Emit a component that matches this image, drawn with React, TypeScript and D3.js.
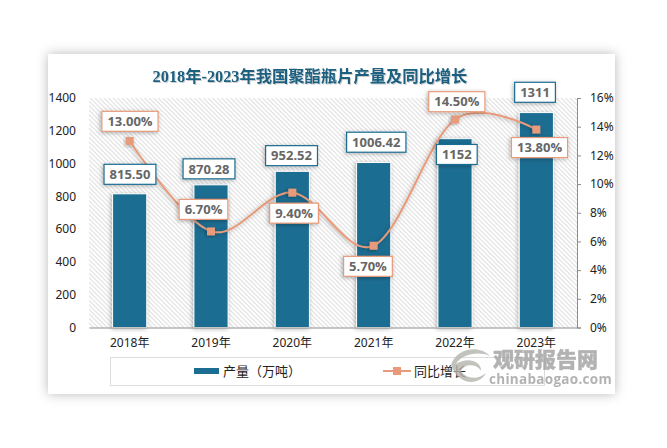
import React, { useEffect, useRef } from "react";
import * as d3 from "d3";

const years = ["2018年", "2019年", "2020年", "2021年", "2022年", "2023年"];
const output = [815.5, 870.28, 952.52, 1006.42, 1152, 1311];
const outputLabels = ["815.50", "870.28", "952.52", "1006.42", "1152", "1311"];
const growth = [13.0, 6.7, 9.4, 5.7, 14.5, 13.8];
const leftTicks = [0, 200, 400, 600, 800, 1000, 1200, 1400];
const rightTicks = [0, 2, 4, 6, 8, 10, 12, 14, 16];

// hand placed data label offsets, from the mark to the centre of the box
const outputLabelOffsets = [[0.3, -19.5], [-2, -16], [-0.8, -15.7], [2.6, -20.3], [1.8, 15.8], [-1.3, -20.3]];
const growthLabelOffsets = [[0.3, -19.7], [-7.5, -22], [1.7, 20.5], [-5.7, 20.6], [1.8, -17.8], [3.2, 18]];

const width = 667;
const height = 448;
const plot = { left: 89, right: 577, top: 98, bottom: 327.5 };
const barColor = "#1b6d92";
const lineColor = "#e89b7a";
const axisFont = "'Noto Sans', 'Noto Sans CJK SC', sans-serif";

const App: React.FC = () => {
  const ref = useRef<SVGSVGElement>(null);

  useEffect(() => {
    const svg = d3.select(ref.current!);
    svg.selectAll("*").remove();

    const defs = svg.append("defs");
    const hatch = defs
      .append("pattern")
      .attr("id", "hatch")
      .attr("width", 3.2)
      .attr("height", 3.2)
      .attr("patternUnits", "userSpaceOnUse")
      .attr("patternTransform", "rotate(-45)");
    hatch.append("line").attr("x1", 1).attr("x2", 1).attr("y1", 0).attr("y2", 3.2).attr("stroke", "#dcdcdc").attr("stroke-width", 1);

    const shadow = (id: string, dx: number, dy: number, blur: number, opacity: number) =>
      defs
        .append("filter")
        .attr("id", id)
        .attr("x", "-30%")
        .attr("y", "-30%")
        .attr("width", "160%")
        .attr("height", "160%")
        .append("feDropShadow")
        .attr("dx", dx)
        .attr("dy", dy)
        .attr("stdDeviation", blur)
        .attr("flood-color", "#000")
        .attr("flood-opacity", opacity);
    shadow("cardShadow", 0, 0, 6, 0.28);
    shadow("markShadow", -1, 1, 2, 0.3);
    shadow("titleShadow", 1, 1, 0.6, 0.2);

    // card
    svg
      .append("rect")
      .attr("x", 48)
      .attr("y", 54)
      .attr("width", 567)
      .attr("height", 340)
      .attr("fill", "#fff")
      .attr("filter", "url(#cardShadow)");

    svg
      .append("text")
      .attr("x", 310)
      .attr("y", 81.5)
      .attr("text-anchor", "middle")
      .attr("font-family", "'Liberation Serif', 'Noto Sans CJK SC', serif")
      .attr("font-weight", "bold")
      .attr("font-size", 16.3)
      .attr("fill", "#1a5f7f")
      .attr("filter", "url(#titleShadow)")
      .text("2018年-2023年我国聚酯瓶片产量及同比增长");

    // plot background
    svg
      .append("rect")
      .attr("x", plot.left)
      .attr("y", plot.top)
      .attr("width", plot.right - plot.left)
      .attr("height", plot.bottom - plot.top)
      .attr("fill", "url(#hatch)");

    const x = d3.scaleBand<string>().domain(years).range([plot.left, plot.right]).paddingInner(0.58).paddingOuter(0.29);
    const yLeft = d3.scaleLinear().domain([0, 1400]).range([plot.bottom, plot.top]);
    const yRight = d3.scaleLinear().domain([0, 16]).range([plot.bottom, plot.top]);
    const cx = (i: number) => x(years[i])! + x.bandwidth() / 2;

    // bars
    svg
      .append("g")
      .selectAll("rect")
      .data(output)
      .join("rect")
      .attr("x", (_, i) => x(years[i])!)
      .attr("y", (d) => yLeft(d))
      .attr("width", x.bandwidth())
      .attr("height", (d) => plot.bottom - yLeft(d))
      .attr("fill", barColor)
      .attr("stroke", "#fff")
      .attr("stroke-width", 1)
      .attr("filter", "url(#markShadow)");

    // axes
    const leftAxis = svg
      .append("g")
      .attr("transform", `translate(${plot.left},0)`)
      .call(d3.axisLeft(yLeft).tickValues(leftTicks).tickSize(0).tickPadding(13).tickFormat((d) => String(d)));
    leftAxis.select(".domain").remove();

    const rightAxis = svg
      .append("g")
      .attr("transform", `translate(${plot.right},0)`)
      .call(d3.axisRight(yRight).tickValues(rightTicks).tickSize(4).tickSizeOuter(4).tickPadding(9).tickFormat((d) => `${d}%`));
    rightAxis.selectAll("line,path").attr("stroke", "#8c8c8c");

    const bottomAxis = svg
      .append("g")
      .attr("transform", `translate(0,${plot.bottom})`)
      .call(d3.axisBottom(x).tickSize(0).tickPadding(11));
    bottomAxis.select(".domain").attr("stroke", "#8c8c8c").attr("stroke-width", 1.2);

    [leftAxis, rightAxis, bottomAxis].forEach((axis) =>
      axis.selectAll("text").attr("font-family", axisFont).attr("font-size", 12).attr("fill", "#222")
    );

    // growth line
    const line = d3
      .line<number>()
      .x((_, i) => cx(i))
      .y((d) => yRight(d))
      .curve(d3.curveCatmullRom.alpha(0));

    svg
      .append("path")
      .datum(growth)
      .attr("d", line)
      .attr("fill", "none")
      .attr("stroke", lineColor)
      .attr("stroke-width", 2)
      .attr("filter", "url(#markShadow)");

    svg
      .append("g")
      .selectAll("rect")
      .data(growth)
      .join("rect")
      .attr("x", (_, i) => cx(i) - 4)
      .attr("y", (d) => yRight(d) - 4)
      .attr("width", 8)
      .attr("height", 8)
      .attr("fill", lineColor)
      .attr("filter", "url(#markShadow)");

    // data labels
    const drawLabel = (text: string, px: number, py: number, color: string) => {
      const g = svg.append("g");
      const box = g.append("rect");
      const label = g
        .append("text")
        .attr("x", px)
        .attr("y", py + 4.7)
        .attr("text-anchor", "middle")
        .attr("font-family", "'Open Sans', sans-serif")
        .attr("font-weight", "bold")
        .attr("font-size", 13)
        .attr("fill", "#666")
        .text(text);
      const w = (label.node() as SVGTextElement).getComputedTextLength() + 11;
      box
        .attr("x", px - w / 2)
        .attr("y", py - 10)
        .attr("width", w)
        .attr("height", 20)
        .attr("fill", "#fff")
        .attr("stroke", color)
        .attr("stroke-width", 1.2)
        .attr("filter", "url(#markShadow)");
    };

    output.forEach((d, i) => {
      const [dx, dy] = outputLabelOffsets[i];
      drawLabel(outputLabels[i], cx(i) + dx, yLeft(d) + dy, barColor);
    });
    growth.forEach((d, i) => {
      const [dx, dy] = growthLabelOffsets[i];
      drawLabel(`${d.toFixed(2)}%`, cx(i) + dx, yRight(d) + dy, lineColor);
    });

    // legend
    svg
      .append("rect")
      .attr("x", 110.5)
      .attr("y", 357.5)
      .attr("width", 434)
      .attr("height", 28)
      .attr("fill", "none")
      .attr("stroke", "#dcdcdc");
    svg.append("rect").attr("x", 194).attr("y", 368).attr("width", 25).attr("height", 6).attr("fill", barColor);
    svg.append("line").attr("x1", 383).attr("x2", 411).attr("y1", 371).attr("y2", 371).attr("stroke", lineColor).attr("stroke-width", 2);
    svg.append("rect").attr("x", 393).attr("y", 367).attr("width", 8).attr("height", 8).attr("fill", lineColor);
    [
      { text: "产量（万吨）", lx: 223 },
      { text: "同比增长", lx: 414 },
    ].forEach((d) => {
      svg
        .append("text")
        .attr("x", d.lx)
        .attr("y", 375.5)
        .attr("font-family", "'Noto Sans CJK SC', sans-serif")
        .attr("font-size", 13)
        .attr("fill", "#222")
        .text(d.text);
    });

    // watermark
    const mark = svg.append("g").attr("opacity", 0.8).attr("fill", "#a0a0a0");
    mark
      .append("path")
      .attr("d", "M451,365 C456,349 478,344 490,356 C478,351 462,354 456,364 C468,356 482,362 481,371 C476,363 464,364 461,371 C466,379 478,380 486,373 C480,386 458,386 451,365 Z")
      .attr("fill", "#b5b5ad");
    mark
      .append("text")
      .attr("x", 493)
      .attr("y", 367)
      .attr("font-family", "'Noto Sans CJK SC', sans-serif")
      .attr("font-weight", "900")
      .attr("font-size", 21)
      .attr("stroke", "#a0a0a0")
      .attr("stroke-width", 0.4)
      .text("观研报告网");
    mark
      .append("text")
      .attr("x", 489)
      .attr("y", 384)
      .attr("font-family", "'Open Sans', sans-serif")
      .attr("font-weight", "bold")
      .attr("font-size", 13.5)
      .attr("letter-spacing", 0.3)
      .text("chinabaogao.com");
  }, []);

  return <svg ref={ref} width={width} height={height} style={{ position: "absolute", left: 0, top: 0 }} />;
};

export default App;
